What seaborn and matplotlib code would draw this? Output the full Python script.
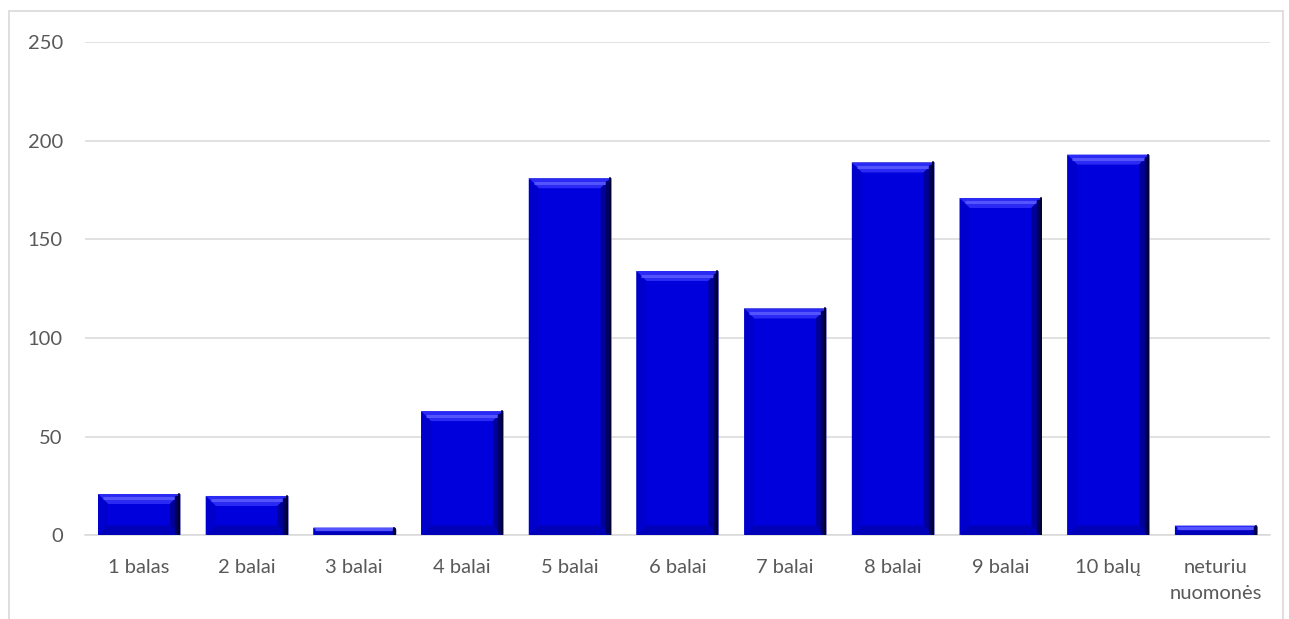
import matplotlib
matplotlib.use("Agg")
import matplotlib.pyplot as plt
from matplotlib.patches import Polygon, Rectangle
import seaborn as sns
import pandas as pd

categories = ["1 balas", "2 balai", "3 balai", "4 balai", "5 balai", "6 balai",
              "7 balai", "8 balai", "9 balai", "10 balų", "neturiu\nnuomonės"]
counts = [21, 20, 4, 63, 181, 134, 115, 189, 171, 193, 5]
y_ticks = [0, 50, 100, 150, 200, 250]

sns.set_theme(style="white")
plt.rcParams["font.family"] = ["Lato", "DejaVu Sans"]

df = pd.DataFrame({"kategorija": categories, "kiekis": counts})

fig = plt.figure(figsize=(12.89, 6.19), dpi=100)
ax = fig.add_axes([0.066, 0.135, 0.919, 0.797])

sns.barplot(data=df, x="kategorija", y="kiekis", color="#0000dc",
            saturation=1, width=0.76, ax=ax, edgecolor="#8a8ac8", linewidth=0.6,
            zorder=3)

ax.set_ylim(0, 250)
ax.set_xlim(-0.5, len(categories) - 0.5)
ax.set_yticks(y_ticks)
ax.yaxis.grid(True, color="#d9d9d9", linewidth=1.1, zorder=0)
ax.xaxis.grid(False)
for side in ["top", "right", "left"]:
    ax.spines[side].set_visible(False)
ax.spines["bottom"].set_color("#d9d9d9")
ax.spines["bottom"].set_linewidth(1.1)
ax.set_xlabel("")
ax.set_ylabel("")
ax.tick_params(axis="y", length=0, pad=16, labelsize=14.5, labelcolor="#595959")
ax.tick_params(axis="x", length=0, pad=17, labelsize=14.5, labelcolor="#595959")
for lab in ax.get_xticklabels():
    lab.set_linespacing(1.65)

# bevelled look for each bar, built from the bar's own extent
fig.canvas.draw()
inv = ax.transData.inverted()
for bar in list(ax.patches):
    bb = bar.get_window_extent()
    x0, y0, x1, y1 = bb.x0, bb.y0, bb.x1, bb.y1
    b = min(10.0, (y1 - y0) / 2.0, (x1 - x0) / 2.0)
    faces = [
        ([(x0, y1), (x1, y1), (x1 - b, y1 - b), (x0 + b, y1 - b)], "#2a2af4"),
        ([(x1, y1), (x1, y0), (x1 - b, y0 + b), (x1 - b, y1 - b)], "#00009a"),
        ([(x0, y0), (x1, y0), (x1 - b, y0 + b), (x0 + b, y0 + b)], "#0000b8"),
        ([(x0, y0), (x0, y1), (x0 + b, y1 - b), (x0 + b, y0 + b)], "#0000cc"),
    ]
    for pts, col in faces:
        data_pts = inv.transform(pts)
        ax.add_patch(Polygon(data_pts, closed=True, facecolor=col,
                             edgecolor="none", zorder=4))
    # highlight stripe in the top bevel and darker outer strip on the right
    hl = inv.transform([(x0 + b * 0.5, y1 - b * 0.45), (x1 - b * 0.5, y1 - b * 0.45)])
    ax.plot(hl[:, 0], hl[:, 1], color="#5454ff", linewidth=2.2,
            solid_capstyle="butt", zorder=5)
    rs = inv.transform([(x1 - b * 0.35, y1 - b * 0.35), (x1 - b * 0.35, y0 + b * 0.35)])
    ax.plot(rs[:, 0], rs[:, 1], color="#000060", linewidth=2.5, zorder=5)
    ed = inv.transform([(x1 - 0.8, y1), (x1 - 0.8, y0)])
    ax.plot(ed[:, 0], ed[:, 1], color="#000030", linewidth=1.4, zorder=5)

# chart frame
fig.patches.append(Rectangle((9 / 1289, -0.05), 1274 / 1289, 1.05 - 11 / 619,
                             transform=fig.transFigure, fill=False,
                             edgecolor="#d9d9d9", linewidth=1.2))

fig.savefig("out.png", dpi=100)
